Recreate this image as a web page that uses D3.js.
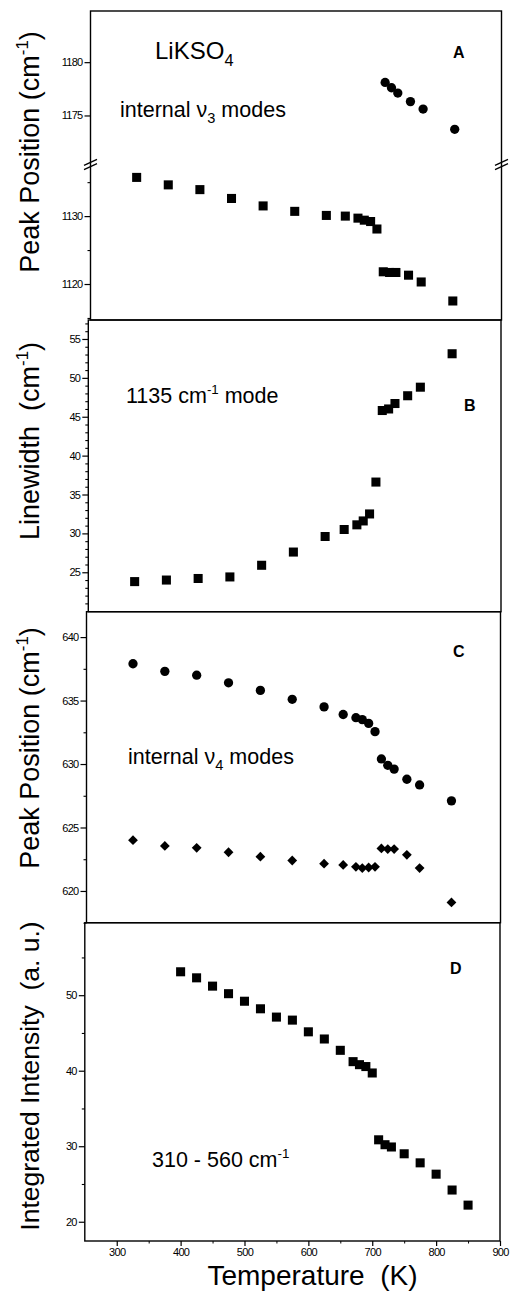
<!DOCTYPE html>
<html><head><meta charset="utf-8">
<script src="https://cdn.jsdelivr.net/npm/d3@7"></script>
<style>
body{margin:0;background:#fff}
svg{display:block}
text{font-family:"Liberation Sans",Arial,sans-serif;fill:#000;white-space:pre}
</style>
</head><body>
<svg id="c" width="511" height="1301"></svg>
<script>
// ---------------- data ----------------
const tempsABC = [323,373,423,473,523,573,623,653,673,683,693,703,713,723,733,753,773,823];
const peakA_low = [1135.7,1134.6,1133.9,1132.6,1131.5,1130.7,1130.1,1130.0,1129.7,1129.4,1129.2,1128.1,1121.8,1121.7,1121.7,1121.3,1120.3,1117.5];
const tempsA_high = [716,726,736,756,776,826];
const peakA_high = [1178.1,1177.6,1177.1,1176.3,1175.6,1173.7];
const widthB = [23.8,24.0,24.2,24.4,25.9,27.6,29.6,30.5,31.1,31.6,32.5,36.6,45.8,46.0,46.7,47.7,48.8,53.1];
const peakC_circle = [637.9,637.3,637.0,636.4,635.8,635.1,634.5,633.9,633.65,633.5,633.2,632.55,630.4,629.9,629.6,628.8,628.35,627.1];
const peakC_diamond = [624.0,623.55,623.4,623.05,622.7,622.4,622.15,622.05,621.9,621.8,621.85,621.9,623.35,623.3,623.3,622.85,621.8,619.1];
const tempsD = [400,425,450,475,500,525,550,575,600,625,650,670,680,690,700,710,720,730,750,775,800,825,850];
const intensityD = [53.1,52.3,51.2,50.2,49.2,48.2,47.1,46.7,45.15,44.2,42.7,41.2,40.8,40.55,39.7,30.85,30.2,29.9,29.0,27.8,26.3,24.2,22.2];
const xTicks = [300,400,500,600,700,800,900];
const xMinorTicks = [350,450,550,650,750,850];
const yTicksA_high = [1175,1180];
const yTicksA_low = [1120,1130];
const yMinorA_low = [1115,1125,1135];
const yTicksB = [25,30,35,40,45,50,55];
const yTicksC = [620,625,630,635,640];
const yTicksD = [20,30,40,50];
const yMinorD = [25,35,45,55];

// ---------------- layout ----------------
const svg = d3.select("#c");
const xDomain = [250, 900];
const panels = {
  A: {top: 11,    bottom: 320,    left: 90.5, right: 501.5, brk: 164.5},
  B: {top: 320,   bottom: 611.7,  left: 88.3, right: 501},
  C: {top: 611.7, bottom: 922.7,  left: 86.5, right: 500.5},
  D: {top: 922.7, bottom: 1241,   left: 84.8, right: 500}
};

const sq = d3.symbol(d3.symbolSquare, 82);
const circ = d3.symbol(d3.symbolCircle, 68);
const dia = d3.symbol(d3.symbolSquare, 48);

function frame(p){
  svg.append("rect").attr("x", p.left).attr("y", p.top)
    .attr("width", p.right - p.left).attr("height", p.bottom - p.top)
    .attr("fill", "none").attr("stroke", "#000").attr("stroke-width", 1.4);
}
function yAxis(p, scale, major, minor){
  const g = svg.append("g").attr("transform", `translate(${p.left},0)`);
  g.call(d3.axisLeft(scale).tickValues(major).tickSize(6).tickPadding(2).tickFormat(d3.format("d")));
  if (minor) {
    const m = svg.append("g").attr("transform", `translate(${p.left},0)`);
    m.call(d3.axisLeft(scale).tickValues(minor).tickSize(3).tickFormat(""));
    m.select(".domain").remove();
    m.selectAll("line").attr("stroke-width", 1.1);
  }
  g.select(".domain").remove();
  g.selectAll("line").attr("stroke-width", 1.2);
  g.selectAll("text").attr("font-size", 11).attr("letter-spacing", -0.7)
    .style("font-family", '"Liberation Sans",Arial,sans-serif');
}
function plot(sym, xs, ys, xScale, yScale, rot){
  svg.append("g").selectAll("path").data(xs).join("path")
    .attr("d", sym)
    .attr("transform", (d,i) => `translate(${xScale(d)},${yScale(ys[i])})` + (rot ? " rotate(45)" : ""))
    .attr("fill", "#000");
}
function label(x, y, size, parts, weight){
  const t = svg.append("text").attr("x", x).attr("y", y).attr("font-size", size);
  if (weight) t.attr("font-weight", weight);
  parts.forEach(([s, mode]) => {
    const ts = t.append("tspan").text(s);
    if (mode === "sub") ts.attr("font-size", size*0.68).attr("dy", size*0.28);
    if (mode === "subEnd") ts.attr("dy", -size*0.28);
    if (mode === "sup") ts.attr("font-size", size*0.62).attr("dy", -size*0.42);
    if (mode === "supEnd") ts.attr("dy", size*0.42);
  });
  return t;
}
function yTitle(cx, cy, size, parts){
  const t = svg.append("text").attr("transform", `translate(${cx},${cy}) rotate(-90)`)
    .attr("text-anchor", "middle").attr("font-size", size);
  parts.forEach(([s, mode]) => {
    const ts = t.append("tspan").text(s);
    if (mode === "sup") ts.attr("font-size", size*0.62).attr("dy", -size*0.42);
    if (mode === "supEnd") ts.attr("dy", size*0.42);
  });
}

// ---------------- panel A ----------------
{
  const p = panels.A;
  const x = d3.scaleLinear().domain(xDomain).range([p.left, p.right]);
  const yHi = d3.scaleLinear().domain([1170.4, 1184.8]).range([p.brk, p.top]);
  const yLo = d3.scaleLinear().domain([1114.7, 1137.6]).range([p.bottom, p.brk]);
  frame(p);
  yAxis(p, yHi, yTicksA_high, null);
  yAxis(p, yLo, yTicksA_low, yMinorA_low);
  [p.left, p.right].forEach(ax => {
    [-2.2, 2.2].forEach(off => {
      svg.append("line").attr("x1", ax-6.5).attr("y1", p.brk+off+3)
        .attr("x2", ax+6.5).attr("y2", p.brk+off-3)
        .attr("stroke", "#000").attr("stroke-width", 1.3);
    });
  });
  plot(sq, tempsABC, peakA_low, x, yLo);
  plot(circ, tempsA_high, peakA_high, x, yHi);
  label(155, 59, 24, [["LiKSO"], ["4","sub"]]);
  label(120, 117, 21.5, [["internal \u03bd"], ["3","sub"], [" modes","subEnd"]]);
  label(453, 58, 16, [["A"]], "bold");
  yTitle(39, 152, 27, [["Peak Position (cm"], ["-1","sup"], [")","supEnd"]]);
}

// ---------------- panel B ----------------
{
  const p = panels.B;
  const x = d3.scaleLinear().domain(xDomain).range([p.left, p.right]);
  const y = d3.scaleLinear().domain([19.93, 57.44]).range([p.bottom, p.top]);
  frame(p);
  yAxis(p, y, yTicksB, d3.range(21, 58, 1).filter(v => v % 5 !== 0));
  plot(sq, tempsABC, widthB, x, y);
  label(126, 403, 21.5, [["1135 cm"], ["-1","sup"], [" mode","supEnd"]]);
  label(464, 410.5, 16, [["B"]], "bold");
  yTitle(39, 441, 27, [["Linewidth  (cm"], ["-1","sup"], [")","supEnd"]]);
}

// ---------------- panel C ----------------
{
  const p = panels.C;
  const x = d3.scaleLinear().domain(xDomain).range([p.left, p.right]);
  const y = d3.scaleLinear().domain([617.5, 642]).range([p.bottom, p.top]);
  frame(p);
  yAxis(p, y, yTicksC, [617.5, 622.5, 627.5, 632.5, 637.5]);
  plot(circ, tempsABC, peakC_circle, x, y);
  plot(dia, tempsABC, peakC_diamond, x, y, true);
  label(128, 764, 21.5, [["internal \u03bd"], ["4","sub"], [" modes","subEnd"]]);
  label(453, 657, 16, [["C"]], "bold");
  yTitle(39, 748, 27, [["Peak Position (cm"], ["-1","sup"], [")","supEnd"]]);
}

// ---------------- panel D ----------------
{
  const p = panels.D;
  const x = d3.scaleLinear().domain(xDomain).range([p.left, p.right]);
  const y = d3.scaleLinear().domain([17.45, 59.6]).range([p.bottom, p.top]);
  frame(p);
  yAxis(p, y, yTicksD, yMinorD);
  const gx = svg.append("g").attr("transform", `translate(0,${p.bottom})`);
  gx.call(d3.axisBottom(x).tickValues(xTicks).tickSize(5).tickPadding(2).tickFormat(d3.format("d")));
  gx.select(".domain").remove();
  gx.selectAll("line").attr("stroke-width", 1.2);
  gx.selectAll("text").attr("font-size", 11).attr("letter-spacing", -0.7)
    .style("font-family", '"Liberation Sans",Arial,sans-serif');
  const gm = svg.append("g").attr("transform", `translate(0,${p.bottom})`);
  gm.call(d3.axisBottom(x).tickValues(xMinorTicks).tickSize(2.5).tickFormat(""));
  gm.select(".domain").remove();
  plot(sq, tempsD, intensityD, x, y);
  label(152, 1167, 21.5, [["310 - 560 cm"], ["-1","sup"]]);
  label(450, 974, 16, [["D"]], "bold");
  yTitle(39, 1076, 26.5, [["Integrated Intensity  (a. u.)"]]);
  svg.append("text").attr("x", 312.5).attr("y", 1285).attr("text-anchor", "middle")
    .attr("font-size", 28).text("Temperature  (K)");
}
</script>
</body></html>
